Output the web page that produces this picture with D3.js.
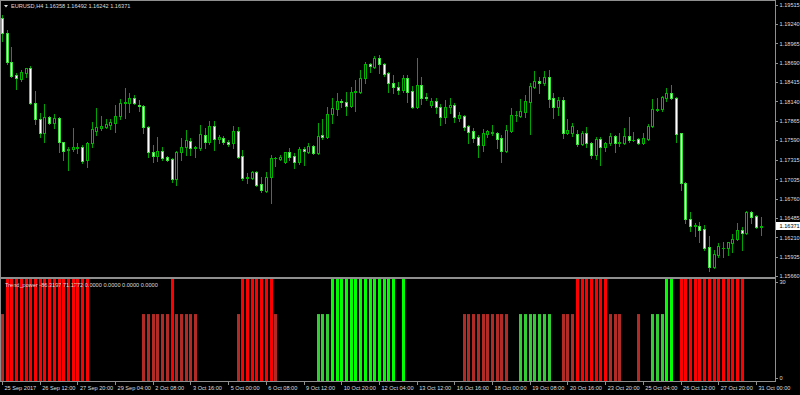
<!DOCTYPE html>
<html>
<head>
<meta charset="utf-8">
<script src="https://cdnjs.cloudflare.com/ajax/libs/d3/7.8.5/d3.min.js"></script>
<style>
  html, body { margin: 0; padding: 0; background: #000; }
  svg { display: block; }
  text { font-family: "Liberation Sans", Arial, sans-serif; }
</style>
</head>
<body>
<div id="chart"></div>
<script>
// EURUSD H4, 25 Sep 2017 04:00 .. 31 Oct 2017 04:00 (one value per bar)
const open = [
  1.19326,1.19113,1.18701,1.18516,1.18460,1.18545,1.18616,1.18119,1.17891,1.17692,
  1.17920,1.17834,1.17905,1.17564,1.17451,1.17465,1.17479,1.17493,1.17309,1.17550,
  1.17721,1.17763,1.17777,1.17806,1.17834,1.17934,1.18119,1.18119,1.18190,1.18090,
  1.18076,1.17777,1.17422,1.17365,1.17437,1.17351,1.17323,1.17039,1.17422,1.17493,
  1.17579,1.17479,1.17479,1.17664,1.17564,1.17792,1.17607,1.17621,1.17564,1.17550,
  1.17721,1.17365,1.17053,1.17053,1.17138,1.16968,1.16868,1.17067,1.17330,1.17323,
  1.17280,1.17422,1.17365,1.17280,1.17465,1.17422,1.17508,1.17408,1.17664,1.17635,
  1.17962,1.18033,1.18147,1.18133,1.18076,1.18275,1.18275,1.18474,1.18673,1.18630,
  1.18758,1.18673,1.18545,1.18403,1.18346,1.18303,1.18474,1.18289,1.18062,1.18374,
  1.18197,1.18090,1.18147,1.18062,1.17920,1.18062,1.18090,1.17905,1.17934,1.17792,
  1.17721,1.17635,1.17522,1.17678,1.17699,1.17692,1.17621,1.17437,1.17721,1.17941,
  1.17934,1.17991,1.18133,1.18346,1.18431,1.18403,1.18488,1.18190,1.18062,1.18161,
  1.17692,1.17692,1.17678,1.17536,1.17692,1.17550,1.17380,1.17607,1.17493,1.17550,
  1.17650,1.17557,1.17550,1.17650,1.17586,1.17607,1.17550,1.17607,1.17792,1.18026,
  1.18033,1.18190,1.18261,1.18190,1.17692,1.16982,1.16470,1.16371,1.16371,1.16328,
  1.16072,1.15788,1.15959,1.16051,1.16058,1.16129,1.16186,1.16314,1.16271,1.16570,
  1.16513,1.16358
];
const high = [
  1.19369,1.19156,1.18914,1.18545,1.18587,1.18623,1.18644,1.18289,1.17976,1.18104,
  1.17934,1.17962,1.17920,1.17571,1.17493,1.17763,1.17550,1.17522,1.17564,1.17849,
  1.18047,1.17934,1.17891,1.17891,1.18090,1.18175,1.18332,1.18261,1.18232,1.18161,
  1.18090,1.17792,1.17522,1.17635,1.17493,1.17365,1.17337,1.17437,1.17621,1.17735,
  1.17621,1.17508,1.17806,1.17763,1.17863,1.17863,1.17664,1.17650,1.17593,1.17792,
  1.17777,1.17451,1.17124,1.17152,1.17152,1.17067,1.17138,1.17380,1.17351,1.17380,
  1.17429,1.17479,1.17408,1.17493,1.17493,1.17550,1.17522,1.17834,1.17891,1.18062,
  1.18190,1.18261,1.18175,1.18275,1.18346,1.18445,1.18587,1.18701,1.18687,1.18786,
  1.18801,1.18687,1.18559,1.18516,1.18417,1.18516,1.18516,1.18360,1.18758,1.18488,
  1.18261,1.18190,1.18190,1.18104,1.18161,1.18190,1.18119,1.17991,1.17948,1.17806,
  1.17763,1.17664,1.17749,1.17735,1.17806,1.17706,1.17664,1.17806,1.18047,1.18005,
  1.18175,1.18232,1.18403,1.18573,1.18488,1.18573,1.18587,1.18261,1.18204,1.18204,
  1.17891,1.17834,1.17735,1.17721,1.17777,1.17564,1.17635,1.17635,1.17564,1.17692,
  1.17664,1.17692,1.17763,1.17920,1.17706,1.17621,1.17692,1.17820,1.18175,1.18190,
  1.18218,1.18332,1.18374,1.18197,1.17692,1.16996,1.16570,1.16413,1.16428,1.16385,
  1.16229,1.16030,1.16129,1.16143,1.16150,1.16257,1.16413,1.16357,1.16584,1.16584,
  1.16527,1.16492
];
const low = [
  1.18999,1.18673,1.18488,1.18317,1.18431,1.18488,1.18104,1.17820,1.17635,1.17564,
  1.17820,1.17763,1.17422,1.17309,1.17167,1.17437,1.17408,1.17266,1.17209,1.17493,
  1.17664,1.17735,1.17763,1.17749,1.17706,1.17891,1.17905,1.17991,1.18104,1.18005,
  1.17692,1.17351,1.17280,1.17294,1.17309,1.17294,1.16996,1.16953,1.17309,1.17380,
  1.17380,1.17351,1.17451,1.17479,1.17536,1.17451,1.17550,1.17536,1.17508,1.17479,
  1.17337,1.17024,1.16982,1.17039,1.16939,1.16854,1.16854,1.16698,1.17223,1.17309,
  1.17266,1.17309,1.17195,1.17252,1.17238,1.17408,1.17394,1.17394,1.17607,1.17628,
  1.17834,1.17948,1.18062,1.17948,1.18062,1.18005,1.18261,1.18403,1.18559,1.18623,
  1.18545,1.18502,1.18275,1.18261,1.18246,1.18275,1.18133,1.18047,1.18047,1.18104,
  1.18168,1.18062,1.17976,1.17806,1.17834,1.17976,1.17849,1.17863,1.17735,1.17550,
  1.17564,1.17351,1.17437,1.17635,1.17664,1.17479,1.17280,1.17422,1.17706,1.17863,
  1.17920,1.17920,1.17678,1.18332,1.18261,1.18374,1.18062,1.17905,1.17948,1.17621,
  1.17678,1.17650,1.17508,1.17522,1.17493,1.17337,1.17323,1.17238,1.17437,1.17522,
  1.17422,1.17508,1.17536,1.17564,1.17579,1.17536,1.17536,1.17593,1.17777,1.18005,
  1.18005,1.18147,1.18175,1.17564,1.16882,1.16413,1.16300,1.16229,1.16143,1.16030,
  1.15731,1.15774,1.15930,1.15930,1.15959,1.16001,1.16172,1.16030,1.16257,1.16413,
  1.16342,1.16242
];
const close = [
  1.19113,1.18701,1.18502,1.18474,1.18559,1.18616,1.18119,1.17891,1.17692,1.17920,
  1.17834,1.17905,1.17564,1.17437,1.17465,1.17493,1.17493,1.17294,1.17550,1.17749,
  1.17777,1.17792,1.17820,1.17849,1.17934,1.18119,1.18133,1.18190,1.18119,1.18076,
  1.17777,1.17422,1.17365,1.17437,1.17337,1.17309,1.17039,1.17422,1.17493,1.17593,
  1.17479,1.17493,1.17678,1.17564,1.17792,1.17607,1.17635,1.17564,1.17536,1.17721,
  1.17351,1.17053,1.17067,1.17138,1.16953,1.16882,1.17067,1.17337,1.17337,1.17351,
  1.17422,1.17351,1.17280,1.17465,1.17437,1.17508,1.17408,1.17650,1.17635,1.17962,
  1.18047,1.18147,1.18133,1.18076,1.18275,1.18289,1.18474,1.18673,1.18644,1.18758,
  1.18673,1.18531,1.18403,1.18346,1.18303,1.18474,1.18275,1.18062,1.18374,1.18190,
  1.18190,1.18147,1.18062,1.17920,1.18062,1.18090,1.17920,1.17948,1.17777,1.17706,
  1.17621,1.17522,1.17692,1.17721,1.17706,1.17607,1.17437,1.17735,1.17948,1.17948,
  1.18005,1.18147,1.18360,1.18431,1.18403,1.18488,1.18175,1.18062,1.18161,1.17692,
  1.17735,1.17792,1.17536,1.17692,1.17550,1.17380,1.17607,1.17493,1.17550,1.17650,
  1.17550,1.17564,1.17650,1.17593,1.17593,1.17550,1.17621,1.17792,1.18033,1.18033,
  1.18204,1.18261,1.18190,1.17678,1.16982,1.16470,1.16371,1.16378,1.16314,1.16058,
  1.15788,1.15973,1.16087,1.16058,1.16143,1.16186,1.16314,1.16271,1.16570,1.16499,
  1.16357,1.16371
];

// Trend_power histogram: +/-31 strong (clipped at window top), +/-20 weak, 0 none
const trend = [
  -20,-31,-31,-31,-31,-31,-31,-31,-31,-31,
  -31,-31,-31,-31,-31,-31,-31,-31,-31,  0,
    0,  0,  0,  0,  0,  0,  0,  0,  0,  0,
  -20,-20,-20,-20,-20,-20,-31,-20,-20,-20,
  -20,-20,  0,  0,  0,  0,  0,  0,  0,  0,
  -20,-31,-31,-31,-31,-31,-31,-31,-20,  0,
    0,  0,  0,  0,  0,  0,  0, 20, 20, 20,
   31, 31, 31, 31, 31, 31, 31, 31, 31, 31,
   31, 31, 31, 31,  0, 31,  0,  0,  0,  0,
    0,  0,  0,  0,  0,  0,  0,  0,-20,-20,
  -20,-20,-20,-20,-20,-20,-20,-20,  0,  0,
   20, 20, 20, 20, 20, 20, 20,  0,  0,-20,
  -20,-20,-31,-31,-31,-31,-31,-31,-31,-20,
  -20,-20,  0,  0,  0,-20,  0,  0, 20, 20,
   20, 31, 31,  0,-31,-31,-31,-31,-31,-31,
  -31,-31,-31,-31,-31,-31,-31,-31,  0,  0,
    0,  0
];

const priceTicks = [1.19515, 1.19240, 1.18965, 1.18690, 1.18415, 1.18140, 1.17865,
  1.17590, 1.17315, 1.17035, 1.16760, 1.16485, 1.16210, 1.15935, 1.15660];
const indTicks = [0, 30];
const timeIdx = [0, 8, 16, 24, 32, 40, 48, 56, 64, 72, 80, 88, 96, 104, 112, 120, 128, 136, 144, 152, 160];
const timeLabels = ["25 Sep 2017", "26 Sep 12:00", "27 Sep 20:00", "29 Sep 04:00", "2 Oct 08:00",
  "3 Oct 16:00", "5 Oct 00:00", "6 Oct 08:00", "9 Oct 12:00", "10 Oct 20:00", "12 Oct 04:00",
  "13 Oct 12:00", "16 Oct 16:00", "18 Oct 00:00", "19 Oct 08:00", "20 Oct 16:00", "23 Oct 20:00",
  "25 Oct 04:00", "26 Oct 12:00", "27 Oct 20:00", "31 Oct 00:00"];
const header = "EURUSD,H4  1.16358 1.16492 1.16242 1.16371";
const indHeader = "Trend_power -86.3197 71.1772 0.0000 0.0000 0.0000 0.0000";
const lastPrice = 1.16371;

const W = 800, H = 395;
const plotRight = 775, mainTop = 1, mainBottom = 277, indTop = 279, indBottom = 381;
const fontSize = "5.6px", textColor = "#dedede", frameColor = "#8f8f8f";

const svg = d3.select("#chart").append("svg")
  .attr("width", W)
  .attr("height", H)
  .style("background", "#000");

const x = d3.scaleLinear().domain([0, open.length - 1]).range([2, 2 + 4.712 * (open.length - 1)]);
const y = d3.scaleLinear().domain([1.15646, 1.19568]).range([mainBottom, mainTop]);
const yInd = d3.scaleLinear().domain([-1, 31]).range([indBottom, indTop]);

// clip regions
svg.append("clipPath").attr("id", "clipMain")
  .append("rect").attr("x", 1).attr("y", mainTop).attr("width", plotRight - 1).attr("height", mainBottom - mainTop);
svg.append("clipPath").attr("id", "clipInd")
  .append("rect").attr("x", 1).attr("y", indTop).attr("width", plotRight - 1).attr("height", indBottom - indTop);

// candles
const bars = d3.range(open.length).map(i => ({
  i, o: open[i], h: high[i], l: low[i], c: close[i]
}));

const gCandles = svg.append("g").attr("clip-path", "url(#clipMain)");

bars.forEach(d => {
  const cx = Math.round(x(d.i));
  const bull = d.c >= d.o;
  const yh = Math.round(y(d.h)), yl = Math.round(y(d.l));
  const yt = Math.round(y(Math.max(d.o, d.c))), yb = Math.round(y(Math.min(d.o, d.c)));
  const hBody = yb - yt;

  gCandles.append("rect")
    .attr("x", cx).attr("y", yh)
    .attr("width", 1).attr("height", Math.max(1, yl - yh + 1))
    .attr("fill", "#00a400");

  gCandles.append("rect")
    .attr("x", cx - 1).attr("y", yt)
    .attr("width", 3).attr("height", hBody + 1)
    .attr("fill", bull ? "#00b400" : "#3be03b");

  if (hBody >= 2) {
    gCandles.append("rect")
      .attr("x", cx).attr("y", yt + 1)
      .attr("width", 1).attr("height", hBody - 1)
      .attr("fill", bull ? "#000" : "#fff");
  }
});

// indicator histogram
const trendColor = v => v <= -30 ? "#ff0000" : v < 0 ? "#b22a26" : v >= 30 ? "#00ff00" : "#32cd32";

svg.append("g").attr("clip-path", "url(#clipInd)")
  .selectAll("rect")
  .data(trend.map((v, i) => ({ v, i })).filter(d => d.v !== 0))
  .join("rect")
  .attr("x", d => Math.round(x(d.i)) - 1)
  .attr("y", d => yInd(Math.abs(d.v)))
  .attr("width", 3)
  .attr("height", d => indBottom - yInd(Math.abs(d.v)))
  .attr("fill", d => trendColor(d.v));

// frame
const frame = svg.append("g").attr("fill", frameColor);
frame.append("rect").attr("x", 0).attr("y", 0).attr("width", plotRight + 1).attr("height", 1);
frame.append("rect").attr("x", 0).attr("y", 0).attr("width", 1).attr("height", indBottom + 1);
frame.append("rect").attr("x", plotRight).attr("y", 0).attr("width", 1).attr("height", indBottom + 1);
frame.append("rect").attr("x", 0).attr("y", mainBottom).attr("width", plotRight + 1).attr("height", 2);
frame.append("rect").attr("x", 0).attr("y", indBottom).attr("width", plotRight + 1).attr("height", 1);

// axes
function styleAxis(g) {
  g.select(".domain").remove();
  g.selectAll(".tick line").attr("stroke", frameColor).attr("shape-rendering", "crispEdges");
  g.selectAll(".tick text")
    .attr("fill", textColor)
    .style("font-size", fontSize)
    .style("font-family", "'Liberation Sans', Arial, sans-serif");
}

svg.append("g")
  .attr("transform", `translate(${plotRight + 0.5},0)`)
  .call(d3.axisRight(y).tickValues(priceTicks).tickFormat(d3.format(".5f")).tickSize(2).tickPadding(2))
  .call(styleAxis);

svg.append("g")
  .attr("transform", `translate(${plotRight + 0.5},0)`)
  .call(d3.axisRight(yInd).tickValues(indTicks).tickSize(2).tickPadding(2))
  .call(styleAxis);

svg.append("g")
  .attr("transform", `translate(0,${indBottom + 0.5})`)
  .call(d3.axisBottom(x).tickValues(timeIdx).tickFormat((d, i) => timeLabels[i]).tickSize(3).tickPadding(2))
  .call(styleAxis)
  .call(g => g.selectAll(".tick text").attr("text-anchor", "start").attr("dx", 2));

// current price marker
const yLast = y(lastPrice);
svg.append("rect")
  .attr("x", plotRight + 1).attr("y", Math.round(yLast) - 4)
  .attr("width", W - plotRight - 1).attr("height", 8)
  .attr("fill", "#fff");
svg.append("text")
  .attr("x", plotRight + 4.5).attr("y", yLast + 2)
  .attr("fill", "#000")
  .style("font-size", fontSize)
  .text(d3.format(".5f")(lastPrice));

// window titles
svg.append("path")
  .attr("d", "M4,5 L8,5 L6,7.5 Z")
  .attr("fill", textColor);
svg.append("text")
  .attr("x", 11).attr("y", 8)
  .attr("fill", textColor)
  .style("font-size", fontSize)
  .text(header);

svg.append("text")
  .attr("x", 5).attr("y", 286.5)
  .attr("fill", textColor)
  .style("font-size", fontSize)
  .text(indHeader);
</script>
</body>
</html>
